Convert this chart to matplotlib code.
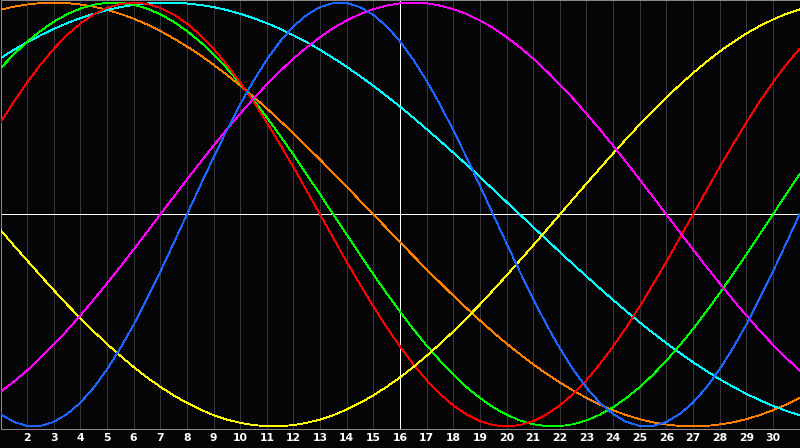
import matplotlib
matplotlib.use("Agg")
import matplotlib.pyplot as plt
import numpy as np

# ── Data: seven biorhythm cycles, read every half day from day 1 to day 31 ───
days = np.arange(1, 31.5, 0.5)
tick_days = list(range(2, 31))

physical = [-0.942, -0.979, -0.998, -0.998, -0.979, -0.942, -0.888, -0.817, -0.731, -0.631,
            -0.520, -0.398, -0.270, -0.136, 0.000,
            0.136, 0.270, 0.398, 0.520, 0.631, 0.731, 0.817, 0.888, 0.942, 0.979, 0.998,
            0.998, 0.979, 0.942, 0.888, 0.817, 0.731, 0.631, 0.520, 0.398, 0.270, 0.136,
            0.000,
            -0.136, -0.270, -0.398, -0.520, -0.631, -0.731, -0.817, -0.888, -0.942, -0.979, -0.998,
            -0.998, -0.979, -0.942, -0.888, -0.817, -0.731, -0.631, -0.520, -0.398, -0.270, -0.136,
            0.000]
emotional = [0.434, 0.532, 0.623, 0.707, 0.782, 0.847, 0.901, 0.944, 0.975, 0.994, 1.000,
             0.994, 0.975, 0.944, 0.901, 0.847, 0.782, 0.707, 0.623, 0.532, 0.434, 0.330,
             0.223, 0.112, 0.000,
             -0.112, -0.223, -0.330, -0.434, -0.532, -0.623, -0.707, -0.782, -0.847, -0.901,
             -0.944, -0.975, -0.994, -1.000,
             -0.994, -0.975, -0.944, -0.901, -0.847, -0.782, -0.707, -0.623, -0.532, -0.434,
             -0.330, -0.223, -0.112, 0.000,
             0.112, 0.223, 0.330, 0.434, 0.532, 0.623, 0.707, 0.782]
intellectual = [0.690, 0.756, 0.815, 0.866, 0.910, 0.945, 0.972, 0.990, 0.999,
                0.999, 0.990, 0.972, 0.945, 0.910, 0.866, 0.815, 0.756, 0.690, 0.618, 0.541,
                0.458, 0.372, 0.282, 0.189, 0.095, 0.000,
                -0.095, -0.189, -0.282, -0.372, -0.458, -0.541, -0.618, -0.690, -0.756, -0.815,
                -0.866, -0.910, -0.945, -0.972, -0.990, -0.999,
                -0.999, -0.990, -0.972, -0.945, -0.910, -0.866, -0.815, -0.756, -0.690, -0.618,
                -0.541, -0.458, -0.372, -0.282, -0.189, -0.095, 0.000,
                0.095, 0.189]
intuitive = [-0.837, -0.789, -0.736, -0.677, -0.614, -0.547, -0.476, -0.402, -0.325, -0.246,
             -0.165, -0.083, 0.000,
             0.083, 0.165, 0.246, 0.325, 0.402, 0.476, 0.547, 0.614, 0.677, 0.736, 0.789,
             0.837, 0.880, 0.916, 0.946, 0.969, 0.986, 0.997, 1.000,
             0.997, 0.986, 0.969, 0.946, 0.916, 0.880, 0.837, 0.789, 0.736, 0.677, 0.614,
             0.547, 0.476, 0.402, 0.325, 0.246, 0.165, 0.083, 0.000,
             -0.083, -0.165, -0.246, -0.325, -0.402, -0.476, -0.547, -0.614, -0.677, -0.736]
aesthetic = [-0.073, -0.146, -0.217, -0.288, -0.357, -0.425, -0.489, -0.552, -0.611, -0.667,
             -0.720, -0.769, -0.813, -0.854, -0.889, -0.920, -0.947, -0.968, -0.983, -0.994,
             -0.999,
             -0.999, -0.994, -0.983, -0.968, -0.947, -0.920, -0.889, -0.854, -0.813, -0.769,
             -0.720, -0.667, -0.611, -0.552, -0.489, -0.425, -0.357, -0.288, -0.217, -0.146,
             -0.073, 0.000,
             0.073, 0.146, 0.217, 0.288, 0.357, 0.425, 0.489, 0.552, 0.611, 0.667,
             0.720, 0.769, 0.813, 0.854, 0.889, 0.920, 0.947, 0.968]
awareness = [0.966, 0.981, 0.991, 0.998, 1.000,
             0.998, 0.991, 0.981, 0.966, 0.947, 0.924, 0.897, 0.866, 0.831, 0.793, 0.752,
             0.707, 0.659, 0.609, 0.556, 0.500, 0.442, 0.383, 0.321, 0.259, 0.195, 0.131,
             0.065, 0.000,
             -0.065, -0.131, -0.195, -0.259, -0.321, -0.383, -0.442, -0.500, -0.556, -0.609,
             -0.659, -0.707, -0.752, -0.793, -0.831, -0.866, -0.897, -0.924, -0.947, -0.966,
             -0.981, -0.991, -0.998, -1.000,
             -0.998, -0.991, -0.981, -0.966, -0.947, -0.924, -0.897, -0.866]
spiritual = [0.738, 0.777, 0.813, 0.846, 0.876, 0.903, 0.927, 0.947, 0.965, 0.979, 0.989,
             0.996, 1.000,
             1.000, 0.996, 0.989, 0.979, 0.965, 0.947, 0.927, 0.903, 0.876, 0.846, 0.813,
             0.777, 0.738,
             0.697, 0.653, 0.607, 0.559, 0.509, 0.457, 0.403, 0.348, 0.292, 0.235, 0.177,
             0.118, 0.059, 0.000,
             -0.059, -0.118, -0.177, -0.235, -0.292, -0.348, -0.403, -0.457, -0.509, -0.559,
             -0.607, -0.653, -0.697, -0.738, -0.777, -0.813, -0.846, -0.876, -0.903, -0.927,
             -0.947]

series = [
    (awareness,    "#ff8000"),
    (spiritual,    "#00ffff"),
    (intellectual, "#00ff00"),
    (emotional,    "#ff0000"),
    (aesthetic,    "#ffff00"),
    (intuitive,    "#ff00ff"),
    (physical,     "#1a66ff"),
]

BG = "#050508"
today = 16
LW = 0.6   # ~1 px at 100 dpi

# ── Figure ────────────────────────────────────────────────────────────────────
fig = plt.figure(figsize=(8.0, 4.48), dpi=100)
fig.patch.set_facecolor(BG)
ax = fig.add_axes([0.5 / 800, 19.5 / 448, 799 / 800, 428 / 448])
ax.set_facecolor(BG)

# day grid
for d in tick_days:
    ax.axvline(d, color="#36363a", lw=LW, zorder=1, antialiased=False)

# centre lines
ax.axhline(0, color="white", lw=LW, zorder=2, antialiased=False)
ax.axvline(today, color="white", lw=LW, zorder=2, antialiased=False)

for values, color in series:
    ax.plot(days, values, color=color, lw=LW, zorder=3, antialiased=False)

ax.set_xlim(1, 31)
ax.set_ylim(-1.01, 1.01)
ax.set_yticks([])
ax.set_xticks(tick_days)
ax.set_xticklabels([str(d) for d in tick_days])
ax.tick_params(axis="x", length=0, pad=3, labelsize=7.8, labelcolor="white")
for lab in ax.get_xticklabels():
    lab.set_fontweight("bold")

for sp in ax.spines.values():
    sp.set_color("#8a8a8a")
    sp.set_linewidth(LW)
    sp.set_antialiased(False)

fig.savefig("out.png", dpi=100, facecolor=BG)
